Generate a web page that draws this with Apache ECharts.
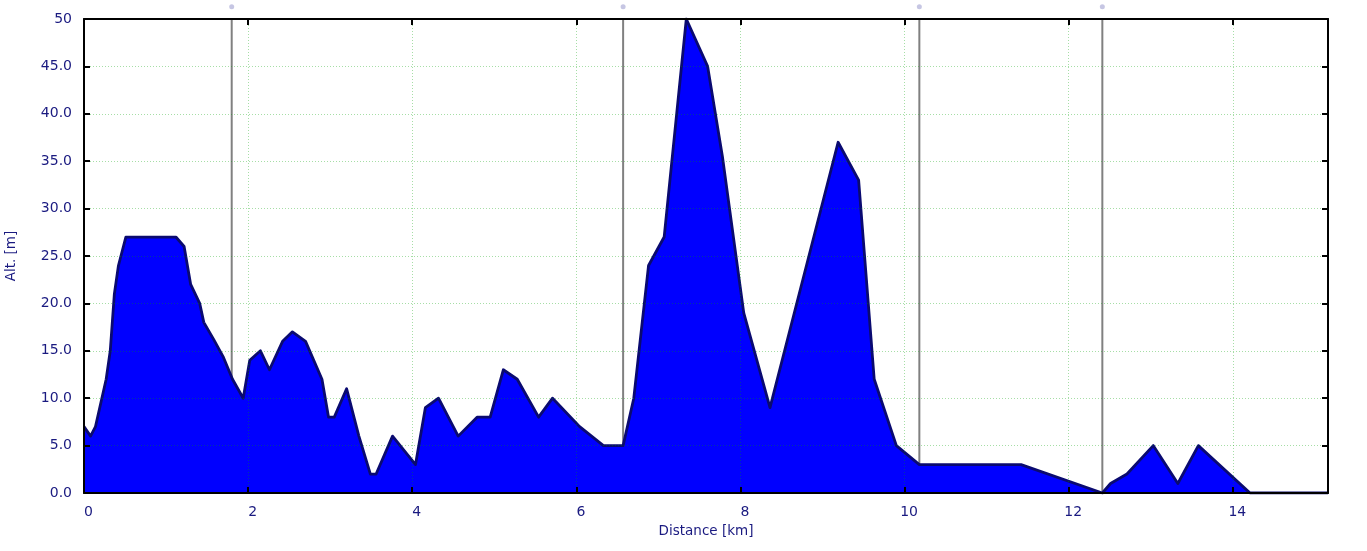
<!DOCTYPE html>
<html>
<head>
<meta charset="utf-8">
<script src="https://cdn.jsdelivr.net/npm/echarts@6/dist/echarts.min.js"></script>
<style>
html,body{margin:0;padding:0;background:#fff;}
#chart{width:1367px;height:551px;}
</style>
</head>
<body>
<div id="chart"></div>
<script>
// Distance along route (km)
const distanceKm = [0, 0.08, 0.14, 0.27, 0.32, 0.37, 0.42, 0.51, 1.12, 1.22, 1.30, 1.41, 1.46, 1.58, 1.70, 1.81, 1.94,
  2.02, 2.15, 2.26, 2.42, 2.54, 2.70, 2.90, 2.98, 3.05, 3.20, 3.35, 3.49, 3.56, 3.76, 4.04,
  4.16, 4.32, 4.56, 4.79, 4.95, 5.11, 5.28, 5.54, 5.71, 6.04, 6.33, 6.57, 6.70, 6.88,
  7.07, 7.34, 7.60, 7.78, 8.04, 8.36, 9.19, 9.44, 9.63, 9.90, 10.18, 11.42, 12.41,
  12.51, 12.71, 13.03, 13.33, 13.58, 14.21, 15.16];
// Altitude (m)
const altitudeM = [7, 6, 7, 12, 15, 21, 24, 27, 27, 26, 22, 20, 18, 16.2, 14.3, 12, 10,
  14, 15, 13, 16, 17, 16, 12, 8, 8, 11, 6, 2, 2, 6, 3,
  9, 10, 6, 8, 8, 13, 12, 8, 10, 7, 5, 5, 10, 24,
  27, 50, 45, 35.5, 19, 9, 37, 33, 12, 5, 3, 3, 0,
  1, 2, 5, 1, 5, 0, 0];
// Waypoint markers (km)
const markerKm = [1.80, 6.57, 10.18, 12.41];
const markerDotAlt = 51.3;
const xTicks = [0, 2, 4, 6, 8, 10, 12, 14];
const yTicks = [0, 5, 10, 15, 20, 25, 30, 35, 40, 45, 50];

const textColor = '#1a1a80';
const fontFamily = 'DejaVu Sans';
const gridLine = {show: true, lineStyle: {color: 'rgba(0,160,0,0.35)', type: [1, 2], width: 1}};

const profile = distanceKm.map((d, i) => [d, altitudeM[i]]);

const series = [];
markerKm.forEach(k => {
  series.push({
    type: 'line', data: [[k, 0], [k, 50]], symbol: 'none', silent: true,
    lineStyle: {color: '#808080', width: 2}, z: 1, animation: false
  });
});
series.push({
  type: 'line', data: profile, symbol: 'none', z: 2, animation: false,
  lineStyle: {color: '#0a0a70', width: 2.8, join: 'round'},
  areaStyle: {color: '#0000ff', opacity: 1}
});
series.push({
  type: 'scatter', data: markerKm.map(k => [k, markerDotAlt]), clip: false,
  symbolSize: 5, itemStyle: {color: '#b8b8dc'}, z: 4, animation: false
});

const chart = echarts.init(document.getElementById('chart'), null, {renderer: 'canvas'});
chart.setOption({
  backgroundColor: '#ffffff',
  animation: false,
  grid: {left: 84, right: 39, top: 19, bottom: 58, containLabel: false, outerBoundsMode: 'none'},
  xAxis: [{
    type: 'value', position: 'bottom', min: 0, max: 15.16, interval: 2, z: 5,
    name: 'Distance [km]', nameLocation: 'middle', nameGap: 31,
    nameTextStyle: {color: textColor, fontFamily: fontFamily, fontSize: 13.5},
    axisLine: {show: true, onZero: false, lineStyle: {color: '#000', width: 2}},
    axisTick: {show: true, inside: true, length: 6, lineStyle: {color: '#000', width: 2}},
    axisLabel: {color: textColor, fontFamily: fontFamily, fontSize: 14, margin: 12,
      showMaxLabel: false, padding: [0, 0, 0, 9],
      formatter: v => xTicks.includes(v) ? String(v) : ''},
    splitLine: gridLine
  }, {
    type: 'value', position: 'top', min: 0, max: 15.16, interval: 2, z: 5,
    axisLine: {show: true, onZero: false, lineStyle: {color: '#000', width: 2}},
    axisTick: {show: true, inside: true, length: 6, lineStyle: {color: '#000', width: 2}},
    axisLabel: {show: false}, splitLine: {show: false}
  }],
  yAxis: [{
    type: 'value', position: 'left', min: 0, max: 50, interval: 5, z: 5,
    name: 'Alt. [m]', nameLocation: 'middle', nameGap: 66,
    nameTextStyle: {color: textColor, fontFamily: fontFamily, fontSize: 13.5},
    axisLine: {show: true, onZero: false, lineStyle: {color: '#000', width: 2}},
    axisTick: {show: true, inside: true, length: 6, lineStyle: {color: '#000', width: 2}},
    axisLabel: {color: textColor, fontFamily: fontFamily, fontSize: 14, margin: 12,
      formatter: v => yTicks.includes(v) ? (v === 50 ? '50' : v.toFixed(1)) : ''},
    splitLine: gridLine
  }, {
    type: 'value', position: 'right', min: 0, max: 50, interval: 5, z: 5,
    axisLine: {show: true, onZero: false, lineStyle: {color: '#000', width: 2}},
    axisTick: {show: true, inside: true, length: 6, lineStyle: {color: '#000', width: 2}},
    axisLabel: {show: false}, splitLine: {show: false}
  }],
  series: series
});
</script>
</body>
</html>
